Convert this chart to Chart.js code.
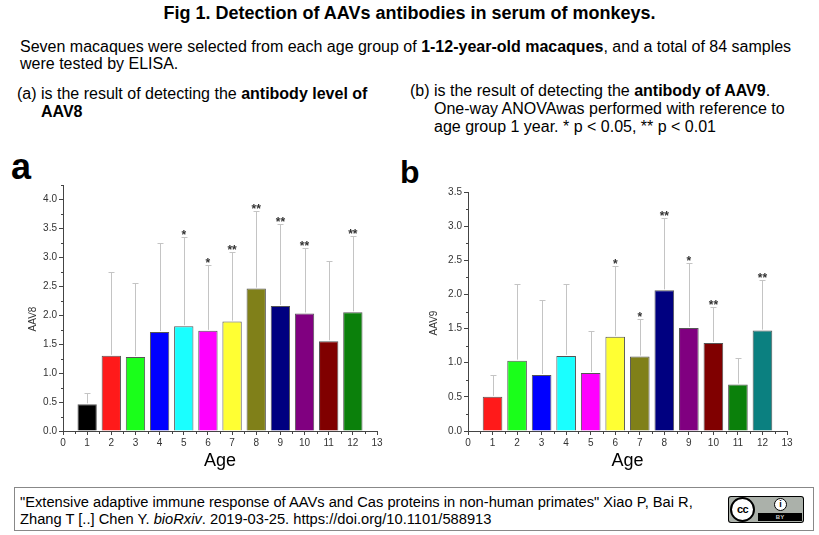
<!DOCTYPE html>
<html><head><meta charset="utf-8">
<script src="https://cdn.jsdelivr.net/npm/chart.js@4.4.1/dist/chart.umd.min.js"></script>
<style>
html,body{margin:0;padding:0;background:#fff;}
body{width:819px;height:535px;position:relative;overflow:hidden;font-family:"Liberation Sans",Arial,sans-serif;color:#000;}
.t{position:absolute;white-space:nowrap;}
#title{left:0;width:819px;text-align:center;top:2px;font-size:18px;font-weight:bold;line-height:22px;}
#intro{left:20px;top:38px;font-size:16px;line-height:17px;}
.hang{padding-left:24px;text-indent:-24px;font-size:16px;line-height:18px;}
#capA{left:17px;top:85px;}
#capB{left:410px;top:82px;}
.panel{position:absolute;font-weight:bold;line-height:1;}
#footer{position:absolute;left:14px;top:487px;width:800px;height:44px;border:1px solid #888;box-sizing:border-box;}
#ref{left:5px;top:6px;font-size:14.7px;line-height:17px;}
canvas{position:absolute;}
#cc{position:absolute;left:728px;top:496px;width:76px;height:27px;background:#000;border-radius:3px;}
#ccin{position:absolute;left:1px;top:1px;right:1px;bottom:1px;background:#abb1aa;border-radius:2px;}
#ccc{position:absolute;left:2px;top:1px;width:21px;height:21px;border-radius:50%;background:#fff;border:2px solid #000;font-weight:bold;font-size:11px;line-height:21px;text-align:center;letter-spacing:-0.5px;}
#person{position:absolute;left:46px;top:2px;width:11px;height:11px;border-radius:50%;background:#fff;border:1.5px solid #000;font-weight:bold;font-size:9px;line-height:11px;text-align:center;}
#strip{position:absolute;left:30px;top:17px;width:44px;height:8px;background:#000;color:#ccc;font-weight:bold;font-size:6px;line-height:8px;text-align:center;}
</style>
</head><body>
<div class="t" id="title">Fig 1. Detection of AAVs antibodies in serum of monkeys.</div>
<div class="t" id="intro">Seven macaques were selected from each age group of <b>1-12-year-old macaques</b>, and a total of 84 samples<br>were tested by ELISA.</div>
<div class="t hang" id="capA">(a) is the result of detecting the <b>antibody level of</b><br><b>AAV8</b></div>
<div class="t hang" id="capB">(b) is the result of detecting the <b>antibody of AAV9</b>.<br>One-way ANOVAwas performed with reference to<br>age group 1 year. * p &lt; 0.05, ** p &lt; 0.01</div>
<div class="panel" style="left:11px;top:149px;font-size:36px;">a</div>
<div class="panel" style="left:400px;top:156px;font-size:32px;">b</div>
<canvas id="chartA" width="400" height="330" style="left:0;top:150px;width:400px;height:330px;"></canvas>
<canvas id="chartB" width="419" height="330" style="left:400px;top:150px;width:419px;height:330px;"></canvas>
<div id="footer"><div class="t" id="ref">"Extensive adaptive immune response of AAVs and Cas proteins in non-human primates" Xiao P, Bai R,<br>Zhang T [..] Chen Y. <i>bioRxiv</i>. 2019-03-25. https://doi.org/10.1101/588913</div></div>
<div id="cc"><div id="ccin"></div><div id="ccc">cc</div><div id="person">i</div><div id="strip">BY</div></div>
<script>
const ages = [1,2,3,4,5,6,7,8,9,10,11,12];
const aav8Mean = [0.46,1.30,1.28,1.71,1.81,1.73,1.89,2.46,2.16,2.03,1.55,2.05];
const aav8Sd   = [0.20,1.44,1.27,1.54,1.54,1.13,1.20,1.34,1.42,1.13,1.39,1.32];
const aav8Sig  = ['','','','','*','*','**','**','**','**','','**'];
const aav9Mean = [0.50,1.03,0.82,1.10,0.85,1.38,1.09,2.06,1.51,1.29,0.68,1.47];
const aav9Sd   = [0.32,1.13,1.10,1.05,0.61,1.04,0.55,1.06,0.95,0.53,0.39,0.74];
const aav9Sig  = ['','','','','','*','*','**','*','**','','**'];
const colorsA = ['#000000','#ff1a1a','#1aff1a','#0000ff','#1affff','#ff00ff','#ffff33','#808019','#000080','#800080','#800000','#0b800b'];
const colorsB = ['#ff1a1a','#1aff1a','#0000ff','#1affff','#ff00ff','#ffff33','#808019','#000080','#800080','#800000','#0b800b','#0b8080'];
const xTitle = 'Age';
const yTitleA = 'AAV8';
const yTitleB = 'AAV9';

const AXIS = '#444';
const FONT = '"Liberation Sans", Arial, sans-serif';

const extrasPlugin = {
  id: 'extras',
  afterDatasetsDraw(chart, args, o) {
    const {ctx, scales:{x, y}} = chart;
    const meta = chart.getDatasetMeta(0);
    const ds = chart.data.datasets[0];
    ctx.save();
    meta.data.forEach((bar, i) => {
      const v = ds.data[i].y;
      const top = Math.round(y.getPixelForValue(v + o.sd[i])) + 0.5;
      const base = y.getPixelForValue(v);
      const px = Math.round(bar.x) + 0.5;
      ctx.strokeStyle = '#c4c4c4';
      ctx.lineWidth = 1;
      ctx.beginPath();
      ctx.moveTo(px, base - 1); ctx.lineTo(px, top);
      ctx.moveTo(px - 3, top); ctx.lineTo(px + 3, top);
      ctx.stroke();
      if (o.sig[i]) {
        ctx.fillStyle = '#333';
        ctx.font = 'bold 12px ' + FONT;
        ctx.textAlign = 'center';
        ctx.textBaseline = 'alphabetic';
        ctx.fillText(o.sig[i], bar.x, top + 1);
      }
    });
    ctx.restore();
  },
  afterDraw(chart, args, o) {
    const {ctx, chartArea, scales:{x, y}} = chart;
    ctx.save();
    ctx.strokeStyle = AXIS;
    ctx.lineWidth = 1;
    ctx.beginPath();
    const lx = Math.round(chartArea.left) + 0.5;
    for (let v = 0.25; v <= y.max + 1e-9; v += 0.5) {
      const py = Math.round(y.getPixelForValue(v)) + 0.5;
      ctx.moveTo(lx - 2.5, py); ctx.lineTo(lx, py);
    }
    const by = Math.round(chartArea.bottom) + 0.5;
    for (let v = 0.5; v < x.max; v += 1) {
      const px = Math.round(x.getPixelForValue(v)) + 0.5;
      ctx.moveTo(px, by); ctx.lineTo(px, by + 2.5);
    }
    ctx.stroke();
    ctx.fillStyle = '#333';
    ctx.font = '10px ' + FONT;
    ctx.textAlign = 'center';
    ctx.textBaseline = 'middle';
    ctx.translate(chartArea.left - o.titleDx, (chartArea.top + chartArea.bottom) / 2 + o.titleDy);
    ctx.rotate(-Math.PI / 2);
    ctx.fillText(o.yTitle, 0, 0);
    ctx.restore();
  }
};

function makeChart(id, means, sds, sigs, colors, yMax, yTitle, g) {
  return new Chart(document.getElementById(id), {
    type: 'bar',
    data: {
      datasets: [{
        data: ages.map((a, i) => ({x: a, y: means[i]})),
        backgroundColor: colors,
        borderColor: '#555',
        borderWidth: 1,
        barPercentage: 0.8,
        categoryPercentage: 1
      }]
    },
    options: {
      responsive: false,
      animation: false,
      layout: {padding: {left: 0, top: g.top, right: g.right, bottom: 0}},
      plugins: {
        legend: {display: false},
        tooltip: {enabled: false},
        extras: {sd: sds, sig: sigs, yTitle: yTitle, titleDx: g.titleDx, titleDy: g.titleDy}
      },
      scales: {
        x: {
          type: 'linear', min: 0, max: 13, offset: false,
          afterFit: s => { s.height = 49; },
          ticks: {stepSize: 1, autoSkip: false, maxRotation: 0, padding: 2, color: '#333', font: {family: FONT, size: 10}},
          grid: {display: true, drawOnChartArea: false, drawTicks: true, tickLength: 4, color: AXIS, offset: false},
          border: {display: true, color: AXIS, width: 1},
          title: {display: true, text: xTitle, color: '#000', font: {family: FONT, size: 18}, padding: {top: 0, bottom: 8}}
        },
        y: {
          min: 0, max: yMax,
          afterFit: s => { s.width = g.left; },
          ticks: {stepSize: 0.5, includeBounds: false, padding: 2, color: '#333', font: {family: FONT, size: 10},
                  callback: v => Number(v).toFixed(1)},
          grid: {display: true, drawOnChartArea: false, drawTicks: true, tickLength: 4, color: AXIS},
          border: {display: true, color: AXIS, width: 1}
        }
      }
    },
    plugins: [extrasPlugin]
  });
}

makeChart('chartA', aav8Mean, aav8Sd, aav8Sig, colorsA, 4.25, yTitleA, {left: 63, top: 35, right: 23, titleDx: 30, titleDy: 11});
makeChart('chartB', aav9Mean, aav9Sd, aav9Sig, colorsB, 3.5, yTitleB, {left: 68, top: 42, right: 32, titleDx: 33.5, titleDy: 11.5});
</script>
</body></html>
